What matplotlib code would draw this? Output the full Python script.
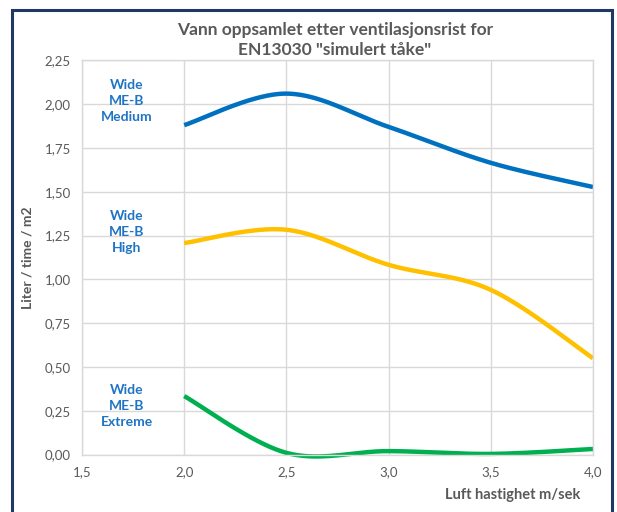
import numpy as np
import matplotlib
matplotlib.use("Agg")
import matplotlib.pyplot as plt
from matplotlib.patches import Rectangle

plt.rcParams['font.family'] = ['Lato', 'DejaVu Sans']

# Data
x_vals = [2.0, 2.5, 3.0, 3.5, 4.0]
medium = [1.88, 2.06, 1.87, 1.665, 1.527]
high = [1.207, 1.283, 1.083, 0.94, 0.55]
extreme = [0.334, 0.01, 0.02, 0.004, 0.032]
series_names = ["Wide\nME-B\nMedium", "Wide\nME-B\nHigh", "Wide\nME-B\nExtreme"]
colors = ["#0070C0", "#FFC000", "#00B050"]
x_ticks = [1.5, 2.0, 2.5, 3.0, 3.5, 4.0]
y_ticks = [0, 0.25, 0.5, 0.75, 1.0, 1.25, 1.5, 1.75, 2.0, 2.25]


def smooth(xs, ys, n=40):
    # Catmull-Rom style smoothing similar to Excel smoothed lines
    xs = np.asarray(xs, float)
    ys = np.asarray(ys, float)
    px = np.concatenate([[xs[0]], xs, [xs[-1]]])
    py = np.concatenate([[ys[0]], ys, [ys[-1]]])
    ox, oy = [], []
    for i in range(1, len(px) - 2):
        p0 = np.array([px[i - 1], py[i - 1]])
        p1 = np.array([px[i], py[i]])
        p2 = np.array([px[i + 1], py[i + 1]])
        p3 = np.array([px[i + 2], py[i + 2]])
        c1 = p1 + (p2 - p0) / 6.0
        c2 = p2 - (p3 - p1) / 6.0
        t = np.linspace(0, 1, n)[:, None]
        pts = ((1 - t) ** 3) * p1 + 3 * ((1 - t) ** 2) * t * c1 + 3 * (1 - t) * t ** 2 * c2 + t ** 3 * p2
        ox.extend(pts[:, 0])
        oy.extend(pts[:, 1])
    return np.array(ox), np.array(oy)


fig = plt.figure(figsize=(6.17, 5.12), dpi=100)
ax = fig.add_axes([82 / 617, 1 - 454.6 / 512, (593 - 82) / 617, (454.6 - 60.3) / 512])

grid_c = "#D9D9D9"
ax.set_xlim(1.5, 4.0)
ax.set_ylim(0, 2.25)
ax.set_xticks(x_ticks)
ax.set_yticks(y_ticks)
ax.set_xticklabels([f"{v:.1f}".replace('.', ',') for v in x_ticks])
ax.set_yticklabels([f"{v:.2f}".replace('.', ',') for v in y_ticks])
ax.grid(True, color=grid_c, linewidth=1.0)
ax.set_axisbelow(True)
for s in ax.spines.values():
    s.set_color(grid_c)
    s.set_linewidth(1.0)
ax.tick_params(length=0, colors="#595959", labelsize=9.5, pad=8)

for ys, c in zip([medium, high, extreme], colors):
    sx, sy = smooth(x_vals, ys)
    ax.plot(sx, sy, color=c, linewidth=3.2, solid_capstyle='butt', clip_on=False)

label_pos = [(1.72, 2.018), (1.72, 1.27), (1.72, 0.277)]
for name, (lx, ly) in zip(series_names, label_pos):
    ax.text(lx, ly, name, color="#1F74C4", fontsize=10, fontweight='bold',
            ha='center', va='center', linespacing=1.4)

fig.text(335 / 617, 1 - 40 / 512, "Vann oppsamlet etter ventilasjonsrist for\nEN13030 \"simulert tåke\"",
         ha='center', va='center', fontsize=12.5, fontweight='bold', color="#595959", linespacing=1.3)
ax.set_ylabel("Liter / time / m2", fontsize=10, fontweight='bold', color="#595959", labelpad=8)
fig.text(513 / 617, 1 - 495 / 512, "Luft hastighet m/sek", ha='center', va='center',
         fontsize=10.5, fontweight='bold', color="#595959")

# outer frame
fig.patches.append(Rectangle((12 / 617, -0.05), (612 - 12) / 617, (1 - 9.5 / 512) + 0.05,
                             transform=fig.transFigure, fill=False, edgecolor="#1F3864",
                             linewidth=2.2, zorder=10))

fig.savefig("out.png", dpi=100)
